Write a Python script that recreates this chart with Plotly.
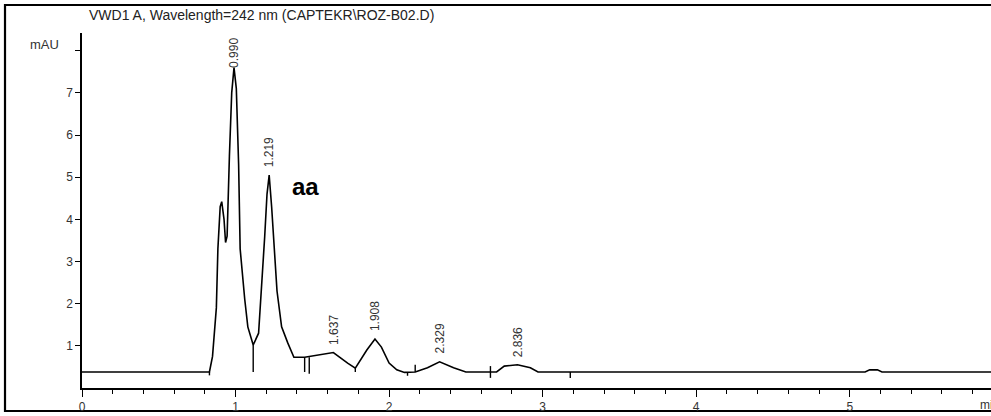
import plotly.graph_objects as go

# ---- data ----
time_min = [0.00, 0.83, 0.85, 0.875, 0.885, 0.90, 0.91, 0.925, 0.935, 0.945,
            0.96, 0.975, 0.99, 1.005, 1.02, 1.03, 1.06, 1.08, 1.115, 1.15,
            1.19, 1.205, 1.219, 1.235, 1.27, 1.30, 1.34, 1.38, 1.45, 1.55,
            1.637, 1.73, 1.78, 1.855, 1.908, 1.95, 2.00, 2.05, 2.10, 2.17,
            2.25, 2.329, 2.42, 2.50, 2.70, 2.75, 2.836, 2.92, 2.97, 5.10,
            5.13, 5.18, 5.21, 5.95]
signal_mau = [0.38, 0.38, 0.75, 1.9, 3.3, 4.3, 4.42, 4.0, 3.45, 3.6,
              5.5, 7.0, 7.6, 7.1, 5.3, 3.3, 2.1, 1.45, 1.02, 1.3,
              3.6, 4.6, 5.05, 4.3, 2.3, 1.45, 1.07, 0.73, 0.73, 0.78,
              0.84, 0.59, 0.47, 0.9, 1.16, 0.97, 0.59, 0.43, 0.37, 0.38,
              0.48, 0.62, 0.48, 0.38, 0.38, 0.52, 0.55, 0.48, 0.38, 0.38,
              0.43, 0.43, 0.38, 0.38]

peak_rt = [0.990, 1.219, 1.637, 1.908, 2.329, 2.836]
peak_height = [7.6, 5.05, 0.84, 1.16, 0.62, 0.55]
peak_labels = ["0.990", "1.219", "1.637", "1.908", "2.329", "2.836"]

# integration event marks (drop lines / ticks)
mark_t = [0.83, 1.115, 1.45, 1.48, 1.78, 2.12, 2.17, 2.66, 3.18]
mark_top = [0.38, 1.02, 0.73, 0.73, 0.47, 0.38, 0.55, 0.52, 0.38]
mark_bottom = [0.30, 0.38, 0.38, 0.34, 0.38, 0.29, 0.38, 0.24, 0.24]

x_ticks = [0, 1, 2, 3, 4, 5]
y_ticks = [1, 2, 3, 4, 5, 6, 7, 8]
y_ticktext = ["1", "2", "3", "4", "5", "6", "7", ""]

title_text = "VWD1 A, Wavelength=242 nm (CAPTEKR\\ROZ-B02.D)"

# ---- figure ----
fig = go.Figure()

fig.add_trace(go.Scatter(x=time_min, y=signal_mau, mode="lines",
                         line=dict(color="black", width=1.6),
                         hoverinfo="skip", showlegend=False))

mx, my = [], []
for t, a, b in zip(mark_t, mark_top, mark_bottom):
    mx += [t, t, None]
    my += [a, b, None]
fig.add_trace(go.Scatter(x=mx, y=my, mode="lines",
                         line=dict(color="black", width=1.4),
                         hoverinfo="skip", showlegend=False))

label_font = dict(family="Liberation Sans Narrow, Liberation Sans, Arial", size=12, color="#333")
for rt, h, lab in zip(peak_rt, peak_height, peak_labels):
    if h > 7:
        fig.add_annotation(x=rt, y=8.35, text=lab, textangle=-90, showarrow=False,
                           xanchor="center", yanchor="top", font=label_font)
    else:
        fig.add_annotation(x=rt, y=h, text=lab, textangle=-90, showarrow=False,
                           xanchor="center", yanchor="bottom", yshift=6, font=label_font)

fig.add_annotation(x=1.453, y=4.79, text="<b>aa</b>", showarrow=False,
                   bgcolor="white",
                   font=dict(family="Liberation Sans, Arial", size=24, color="black"))

fig.add_annotation(xref="paper", yref="paper", x=0.0055, y=1.0507, text=title_text,
                   showarrow=False, xanchor="left", yanchor="middle",
                   font=dict(family="Liberation Sans Narrow, Liberation Sans, Arial", size=14, color="#222"))
fig.add_annotation(xref="paper", yref="paper", x=-0.0418, y=0.969, text="mAU",
                   showarrow=False, xanchor="center", yanchor="middle",
                   font=dict(family="Liberation Sans, Arial", size=13, color="#333"))
fig.add_annotation(xref="paper", yref="paper", x=0.986, y=-0.048, text="min",
                   showarrow=False, xanchor="left", yanchor="middle",
                   font=dict(family="Liberation Sans, Arial", size=12, color="#333"))

# outer frame
fig.add_shape(type="rect", xref="paper", yref="paper",
              x0=-0.0847, x1=1.02, y0=-0.0648, y1=1.0789,
              line=dict(color="black", width=2.2), fillcolor="rgba(0,0,0,0)", layer="below")

fig.update_layout(
    width=991, height=416,
    margin=dict(l=82, r=0, t=33, b=28),
    paper_bgcolor="white", plot_bgcolor="white",
    showlegend=False,
    xaxis=dict(range=[0, 5.92], showgrid=False, zeroline=False,
               showline=True, linecolor="black", linewidth=1.5,
               ticks="outside", ticklen=7, tickwidth=1.3, tickcolor="black",
               tickvals=x_ticks, ticktext=[str(v) for v in x_ticks],
               tickfont=dict(family="Liberation Sans, Arial", size=12, color="#333"),
               minor=dict(dtick=0.2, ticks="outside", ticklen=4, tickwidth=1.2,
                          tickcolor="black", showgrid=False)),
    yaxis=dict(range=[0, 8.42], showgrid=False, zeroline=False,
               showline=True, linecolor="black", linewidth=1.5,
               ticks="outside", ticklen=5, tickwidth=1.3, tickcolor="black",
               tickvals=y_ticks, ticktext=y_ticktext,
               tickfont=dict(family="Liberation Sans, Arial", size=12, color="#333")),
)

fig.write_html("out.html", config={"displayModeBar": False},
               post_script="document.body.style.margin='0';document.body.style.padding='0';")
